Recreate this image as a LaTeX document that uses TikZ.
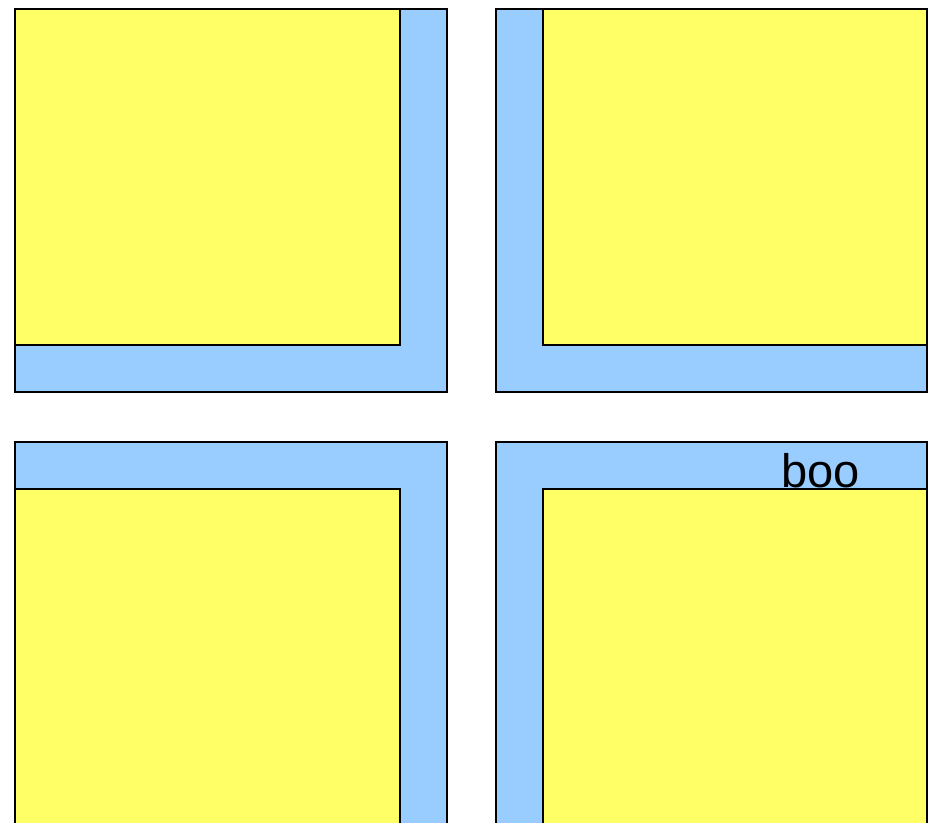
\documentclass[tikz,border=0pt]{standalone}
\usepackage{fontspec}
\setmainfont{Liberation Sans}
\usepackage{xcolor}
\definecolor{sky}{HTML}{99CCFF}
\definecolor{lemon}{HTML}{FFFF66}
\begin{document}
\begin{tikzpicture}[x=1pt,y=-1pt,line width=1.3pt,
  frame/.style={fill=sky,draw=black},pane/.style={fill=lemon,draw=black}]
\clip (0,0) rectangle (933,822);
\fill[white] (0,0) rectangle (933,822);
% top row
\draw[frame] (15,9) rectangle (447,392);\draw[pane] (15,9) rectangle (400,345);
\draw[frame] (496,9) rectangle (927,392);\draw[pane] (543,9) rectangle (927,345);
% bottom row, runs past the lower edge
\draw[frame] (15,442) rectangle (447,860);\draw[pane] (15,489) rectangle (400,860);
\draw[frame] (496,442) rectangle (927,860);\draw[pane] (543,489) rectangle (927,860);
\node[font=\fontsize{47}{50}\selectfont,anchor=base west,inner sep=0pt] (boo) at (781,487) {boo};
\end{tikzpicture}
\end{document}
